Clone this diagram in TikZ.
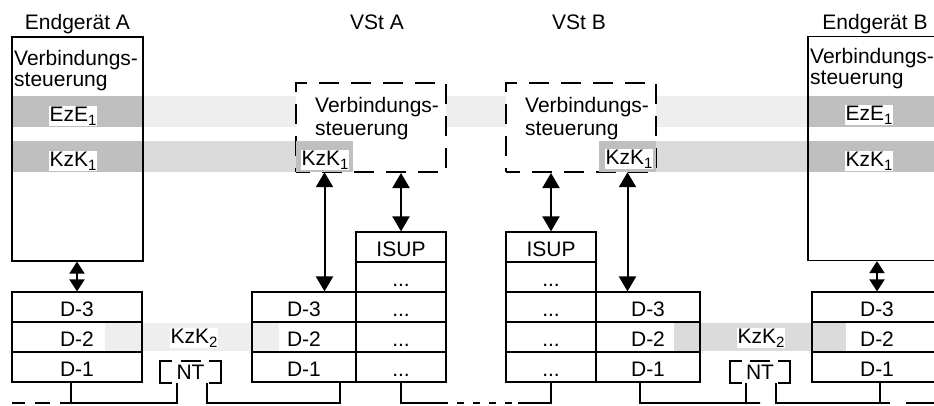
\documentclass[tikz,border=0pt]{standalone}
\usepackage{fontspec}
\setmainfont{Liberation Sans}
\usetikzlibrary{arrows.meta}
\definecolor{banddark}{gray}{0.75}
\definecolor{bandmid}{gray}{0.86}
\definecolor{bandlight}{gray}{0.935}
% index digit set lower and larger than \textsubscript
\newcommand{\idx}[1]{\raisebox{-4.5pt}{\fontsize{15}{15}\selectfont #1}}

\begin{document}
\begin{tikzpicture}[x=1pt,y=-1pt,
  every node/.style={font=\fontsize{21}{21}\selectfont, inner sep=0pt},
  cell/.style={draw, line width=1.2pt, minimum height=30pt, text height=18pt, text depth=0pt},
  endcol/.style={cell, minimum width=130pt},
  dcol/.style={cell, minimum width=104pt},
  pcol/.style={cell, minimum width=90pt},
  termbox/.style={draw, line width=1.2pt, minimum width=131pt, minimum height=224pt},
  ctrlbox/.style={draw, fill=white, line width=2pt, dash pattern=on 20pt off 12pt,
                  dash phase=6pt, minimum width=150pt, minimum height=89pt},
  kzbox/.style={fill=banddark, minimum width=57pt, minimum height=31pt},
  lbl/.style={fill=white, inner sep=0.5pt, anchor=base west},
  twoline/.style={anchor=north west, align=left},
  longarrow/.style={line width=2pt, {Triangle[length=15pt,width=17pt]}-{Triangle[length=15pt,width=17pt]}},
  shortarrow/.style={line width=2pt, {Triangle[length=12pt,width=15pt]}-{Triangle[length=12pt,width=15pt]}},
  wire/.style={line width=1.5pt},
  ntline/.style={line width=1.8pt},
]
\useasboundingbox (0,0) rectangle (934,405);
\clip (0,0) rectangle (934,405);

% peer-to-peer bands
\fill[bandlight] (143,96) rectangle (808,127);
\fill[bandmid] (143,141) rectangle (296,172);
\fill[bandmid] (656,141) rectangle (808,172);
\fill[banddark] (12,96) rectangle (143,127);
\fill[banddark] (12,141) rectangle (143,172);
\fill[banddark] (808,96) rectangle (940,127);
\fill[banddark] (808,141) rectangle (940,172);
\fill[bandlight] (105,323) rectangle (279,351);
\fill[bandmid] (674,323) rectangle (846,351);

% titles
\node[anchor=base] (tA) at (77.5,29) {Endgerät A};
\node[anchor=base] (tVA) at (377,29) {VSt A};
\node[anchor=base] (tVB) at (579,29) {VSt B};
\node[anchor=base] (tB) at (875,29) {Endgerät B};

% terminal call control
\node[termbox] (termA) at (77.5,149) {};
\node[termbox] (termB) at (873.5,148.5) {};
\node[twoline] (ctlA) at (14,50) {Verbindungs-\\steuerung};
\node[twoline] (ctlB) at (810,48) {Verbindungs-\\steuerung};
\node[lbl] (ezeA) at (49,121) {EzE\idx{1}};
\node[lbl] (kzkA) at (49,166) {KzK\idx{1}};
\node[lbl] (ezeB) at (845,120) {EzE\idx{1}};
\node[lbl] (kzkB) at (845,166) {KzK\idx{1}};

% exchange call control
\node[ctrlbox] (vsta) at (371,127.5) {};
\node[ctrlbox] (vstb) at (581,127.5) {};
\node[twoline, font=\fontsize{21}{23}\selectfont] (ctlVA) at (315,97) {Verbindungs-\\steuerung};
\node[twoline, font=\fontsize{21}{23}\selectfont] (ctlVB) at (525,97) {Verbindungs-\\steuerung};
\node[kzbox] (kza) at (324.5,156.5) {};
\node[kzbox] (kzb) at (627.5,156.5) {};
\node[lbl] (kzkVA) at (301,165) {KzK\idx{1}};
\node[lbl] (kzkVB) at (605,164) {KzK\idx{1}};

% protocol stacks
\node[endcol] (aD3) at (77,307) {D-3};
\node[endcol] (aD2) at (77,337) {D-2};
\node[endcol] (aD1) at (77,367) {D-1};

\node[dcol] (vaD3) at (304,307) {D-3};
\node[dcol] (vaD2) at (304,337) {D-2};
\node[dcol] (vaD1) at (304,367) {D-1};
\node[pcol] (vaR5) at (401,247) {ISUP};
\node[pcol] (vaR4) at (401,277) {...};
\node[pcol] (vaR3) at (401,307) {...};
\node[pcol] (vaR2) at (401,337) {...};
\node[pcol] (vaR1) at (401,367) {...};

\node[pcol] (vbL5) at (551,247) {ISUP};
\node[pcol] (vbL4) at (551,277) {...};
\node[pcol] (vbL3) at (551,307) {...};
\node[pcol] (vbL2) at (551,337) {...};
\node[pcol] (vbL1) at (551,367) {...};
\node[dcol] (vbD3) at (648,307) {D-3};
\node[dcol] (vbD2) at (648,337) {D-2};
\node[dcol] (vbD1) at (648,367) {D-1};

\node[endcol] (bD3) at (877,307) {D-3};
\node[endcol] (bD2) at (877,337) {D-2};
\node[endcol] (bD1) at (877,367) {D-1};

% layer-2 peer labels
\node[lbl] (kz2A) at (170,343) {KzK\idx{2}};
\node[lbl] (kz2B) at (737,343) {KzK\idx{2}};

% vertical interfaces
\draw[shortarrow] (termA.south -| aD3.north) -- (aD3.north);
\draw[shortarrow] (termB.south -| bD3.north) -- (bD3.north);
\draw[longarrow] (kza.south) -- (kza.south |- vaD3.north);
\draw[longarrow] (vaR5.north |- vsta.south) -- (vaR5.north);
\draw[longarrow] (vbL5.north |- vstb.south) -- (vbL5.north);
\draw[longarrow] (kzb.south) -- (kzb.south |- vbD3.north);

% network terminations
\node (nt1) at (190.5,372) [minimum width=61pt, minimum height=22pt] {NT};
\node (nt2) at (760,372) [minimum width=60pt, minimum height=22pt] {NT};
\foreach \n in {nt1,nt2} {
  \draw[ntline] ([xshift=12pt]\n.north west) -| (\n.south west) -- ([xshift=12pt]\n.south west);
  \draw[ntline] ([xshift=-12pt]\n.north east) -| (\n.south east) -- ([xshift=-12pt]\n.south east);
  \draw[ntline] ([xshift=-10pt]\n.north) -- ([xshift=10pt]\n.north);
}

% subscriber lines and trunk
\coordinate (busA0) at (12,403);
\coordinate (busA1) at (60,403);
\coordinate (gapA) at (448,403);
\coordinate (gapB) at (518,403);
\coordinate (busB1) at (890,403);
\coordinate (busB2) at (906,403);
\coordinate (busB3) at (940,403);

\draw[wire, dash pattern=on 13pt off 10pt on 15pt off 10pt] (busA0) -- (busA1);
\draw[wire] (busA1) -| ([xshift=-13.5pt]nt1.south);
\draw[wire] ([xshift=-6pt]aD1.south) -- ([xshift=-6pt]aD1.south |- busA1);
\draw[wire] ([xshift=16.5pt]nt1.south) |- (gapA -| vaD1.south) -| ([xshift=36pt]vaD1.south);
\draw[wire] (vaR1.south) |- (gapA);
\draw[wire, dash pattern=on 7pt off 9pt, dash phase=7pt] (gapA) -- (gapB);
\draw[wire] (gapB) -| (vbL1.south);
\draw[wire] ([xshift=-8pt]vbD1.south) |- (gapB -| nt2.south) -| ([xshift=-14pt]nt2.south);
\draw[wire] ([xshift=16pt]nt2.south) |- (busB1);
\draw[wire] ([xshift=3pt]bD1.south) -- ([xshift=3pt]bD1.south |- busB1);
\draw[wire] (busB2) -- (busB3);
\end{tikzpicture}
\end{document}
